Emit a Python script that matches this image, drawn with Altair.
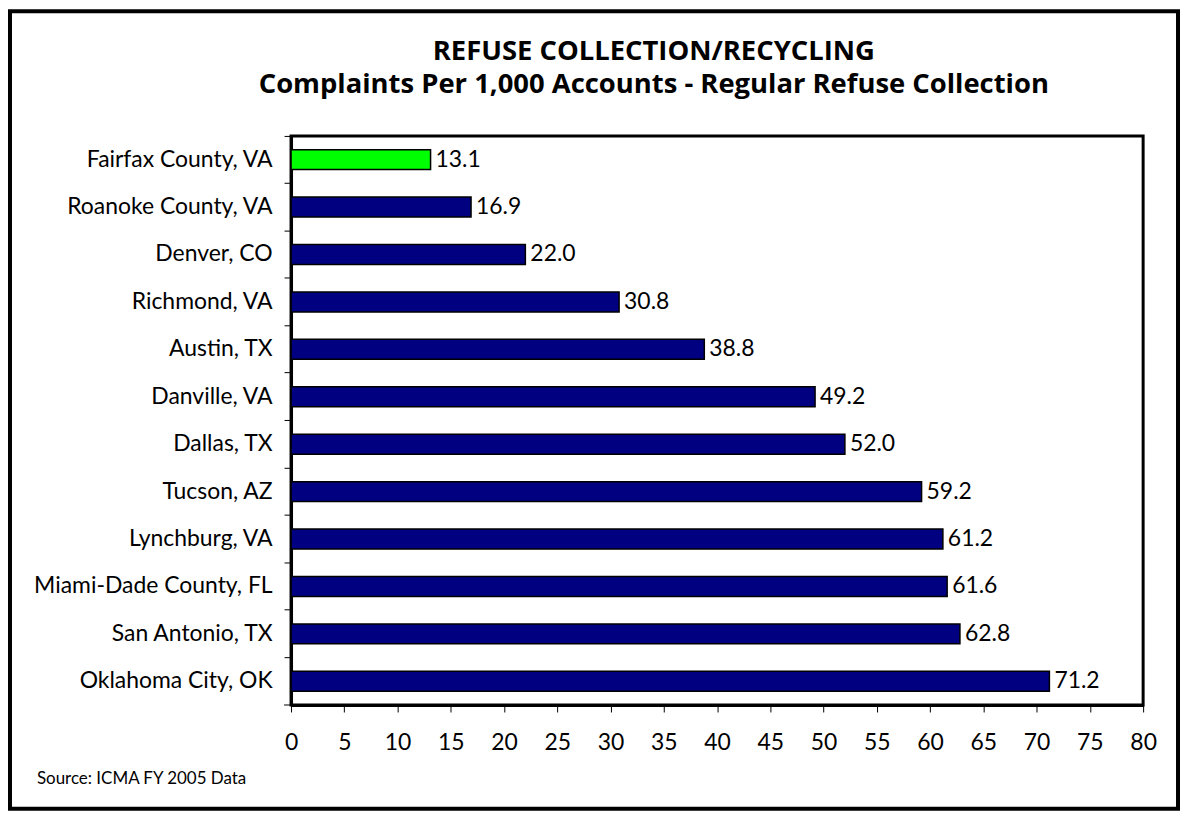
import altair as alt
import pandas as pd

cities = ["Fairfax County, VA", "Roanoke County, VA", "Denver, CO", "Richmond, VA",
          "Austin, TX", "Danville, VA", "Dallas, TX", "Tucson, AZ", "Lynchburg, VA",
          "Miami-Dade County, FL", "San Antonio, TX", "Oklahoma City, OK"]
values = [13.1, 16.9, 22.0, 30.8, 38.8, 49.2, 52.0, 59.2, 61.2, 61.6, 62.8, 71.2]
groups = ["Fairfax"] + ["Other"] * 11
x_ticks = list(range(0, 81, 5))
title_lines = ["REFUSE COLLECTION/RECYCLING",
               "Complaints Per 1,000 Accounts - Regular Refuse Collection"]
source_text = "Source: ICMA FY 2005 Data"

FONT = "Lato"
FS = 23
W, H = 855, 571

df = pd.DataFrame({"city": cities, "value": values, "group": groups})

y_enc = alt.Y("city:N", sort=cities, title=None,
              scale=alt.Scale(paddingInner=0, paddingOuter=0),
              axis=alt.Axis(bandPosition=0, tickSize=7, tickColor="black", tickWidth=1,
                            domainColor="black", domainWidth=3, labelFontSize=FS,
                            labelColor="black", labelFont=FONT, labelPadding=12,
                            labelLimit=400))
x_enc = alt.X("value:Q", title=None,
              scale=alt.Scale(domain=[0, 80], nice=False),
              axis=alt.Axis(values=x_ticks, tickSize=7, tickColor="black", tickWidth=1,
                            domainColor="black", domainWidth=3, labelFontSize=FS,
                            labelColor="black", labelFont=FONT, labelPadding=20,
                            grid=False, labelFlush=False))

bars = alt.Chart(df).mark_bar(size=20, stroke="black", strokeWidth=1.5).encode(
    x=x_enc, y=y_enc,
    color=alt.Color("group:N", scale=alt.Scale(domain=["Fairfax", "Other"],
                                               range=["#00FF00", "#000080"]), legend=None),
)

labels = alt.Chart(df).mark_text(align="left", baseline="middle", dx=5, fontSize=FS,
                                 font=FONT, color="black").encode(
    x="value:Q", y=alt.Y("city:N", sort=cities),
    text=alt.Text("value:Q", format=".1f"),
)

bottom_tick = alt.Chart(df.head(1)).mark_rule(color="black", strokeWidth=1).encode(
    x=alt.value(-7), x2=alt.value(0), y=alt.value(H),
)

source = alt.Chart(pd.DataFrame({"t": [source_text]})).mark_text(
    align="left", baseline="middle", fontSize=17, font=FONT, color="black").encode(
    x=alt.value(-255), y=alt.value(645), text="t:N")

tdf = pd.DataFrame({"t": title_lines, "yy": [-76, -43]})
title = alt.Chart(tdf).mark_text(align="center", baseline="alphabetic", fontSize=27.5,
                                 font="Open Sans", fontWeight="bold", color="black").encode(
    x=alt.value(364), y=alt.Y("yy:Q", scale=None), text="t:N")

frame = alt.Chart(df.head(1)).mark_rect(fill=None, stroke="black", strokeWidth=4).encode(
    x=alt.value(-282), x2=alt.value(890), y=alt.value(-125), y2=alt.value(675))

chart = alt.layer(bars, labels, bottom_tick, source, title, frame).properties(
    width=W, height=H,
    padding={"left": 284, "top": 127, "right": 37, "bottom": 108},
    autosize=alt.AutoSizeParams(type="none"),
).configure_view(stroke="black", strokeWidth=3)

chart.save("out.html", embed_options={"renderer": "svg", "actions": False})
